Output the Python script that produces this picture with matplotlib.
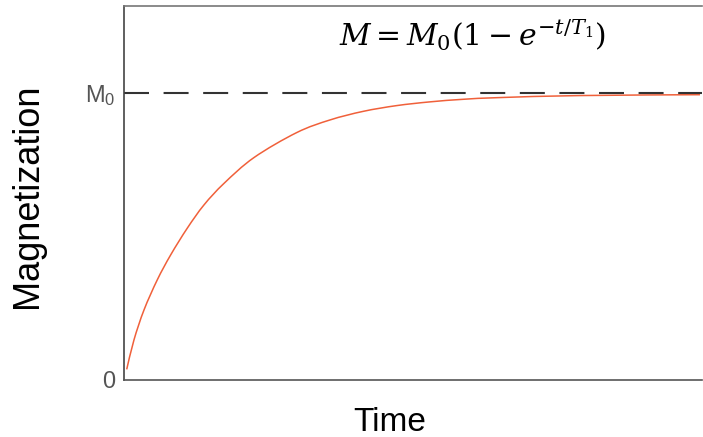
import matplotlib
matplotlib.use('Agg')
import matplotlib.pyplot as plt
from matplotlib.path import Path
from matplotlib.patches import PathPatch

plt.rcParams['font.family'] = ['Liberation Sans', 'DejaVu Sans']
plt.rcParams['mathtext.fontset'] = 'dejavuserif'

# values (time in arbitrary units, M in units of M0)
time = [0.047, 0.173, 0.346, 0.576, 0.808, 1.095, 1.384, 1.730, 2.249, 2.988,
        3.564, 4.140, 4.718, 5.294, 5.870, 6.505, 7.889, 9.965]
magnetization = [0.037, 0.140, 0.244, 0.349, 0.436, 0.529, 0.610, 0.685, 0.775, 0.862,
                 0.906, 0.936, 0.956, 0.969, 0.978, 0.984, 0.991, 0.994]
m0_level = 1.0
ytick_values = [0, 1.0]
ytick_labels = ['0', 'M$_\\mathregular{0}$']


def smooth_path(xs, ys):
    # Catmull-Rom style bezier through the read points (drawing only)
    pts = list(zip(xs, ys))
    verts = [pts[0]]
    codes = [Path.MOVETO]
    for i in range(len(pts) - 1):
        p0 = pts[i - 1] if i > 0 else pts[i]
        p1, p2 = pts[i], pts[i + 1]
        p3 = pts[i + 2] if i + 2 < len(pts) else pts[i + 1]
        c1 = (p1[0] + (p2[0] - p0[0]) / 6, p1[1] + (p2[1] - p0[1]) / 6)
        c2 = (p2[0] - (p3[0] - p1[0]) / 6, p2[1] - (p3[1] - p1[1]) / 6)
        verts += [c1, c2, p2]
        codes += [Path.CURVE4] * 3
    return Path(verts, codes)


fig = plt.figure(figsize=(7.03, 4.37), dpi=100)
ax = fig.add_axes([124 / 703, 57 / 437, 578 / 703, 374 / 437])

ax.add_patch(PathPatch(smooth_path(time, magnetization), facecolor='none',
                       edgecolor='#f0603a', linewidth=1.1))
ax.axhline(m0_level, color='#333333', linewidth=1.5, linestyle=(0, (12, 7)))

ax.set_xlim(0, 10)
ax.set_ylim(0, 1.303)
ax.set_xticks([])
ax.set_yticks(ytick_values)
ax.set_yticklabels(ytick_labels)
ax.tick_params(axis='y', length=0, pad=6, labelsize=17, labelcolor='#555555')

ax.spines['right'].set_visible(False)
ax.spines['left'].set_color('#444444')
ax.spines['bottom'].set_color('#555555')
ax.spines['top'].set_color('#777777')
for side in ['left', 'bottom', 'top']:
    ax.spines[side].set_linewidth(1.2)

fig.text(28 / 703, 1 - 196 / 437, 'Magnetization', rotation=90,
         ha='center', va='center', fontsize=26)
fig.text(390 / 703, 1 - 431 / 437, 'Time', ha='center', va='baseline', fontsize=24)
fig.text(472 / 703, 1 - 46 / 437, r'$M = M_0(1 - e^{-t/T_1})$',
         ha='center', va='baseline', fontsize=21.5)

fig.savefig('out.png', dpi=100)
